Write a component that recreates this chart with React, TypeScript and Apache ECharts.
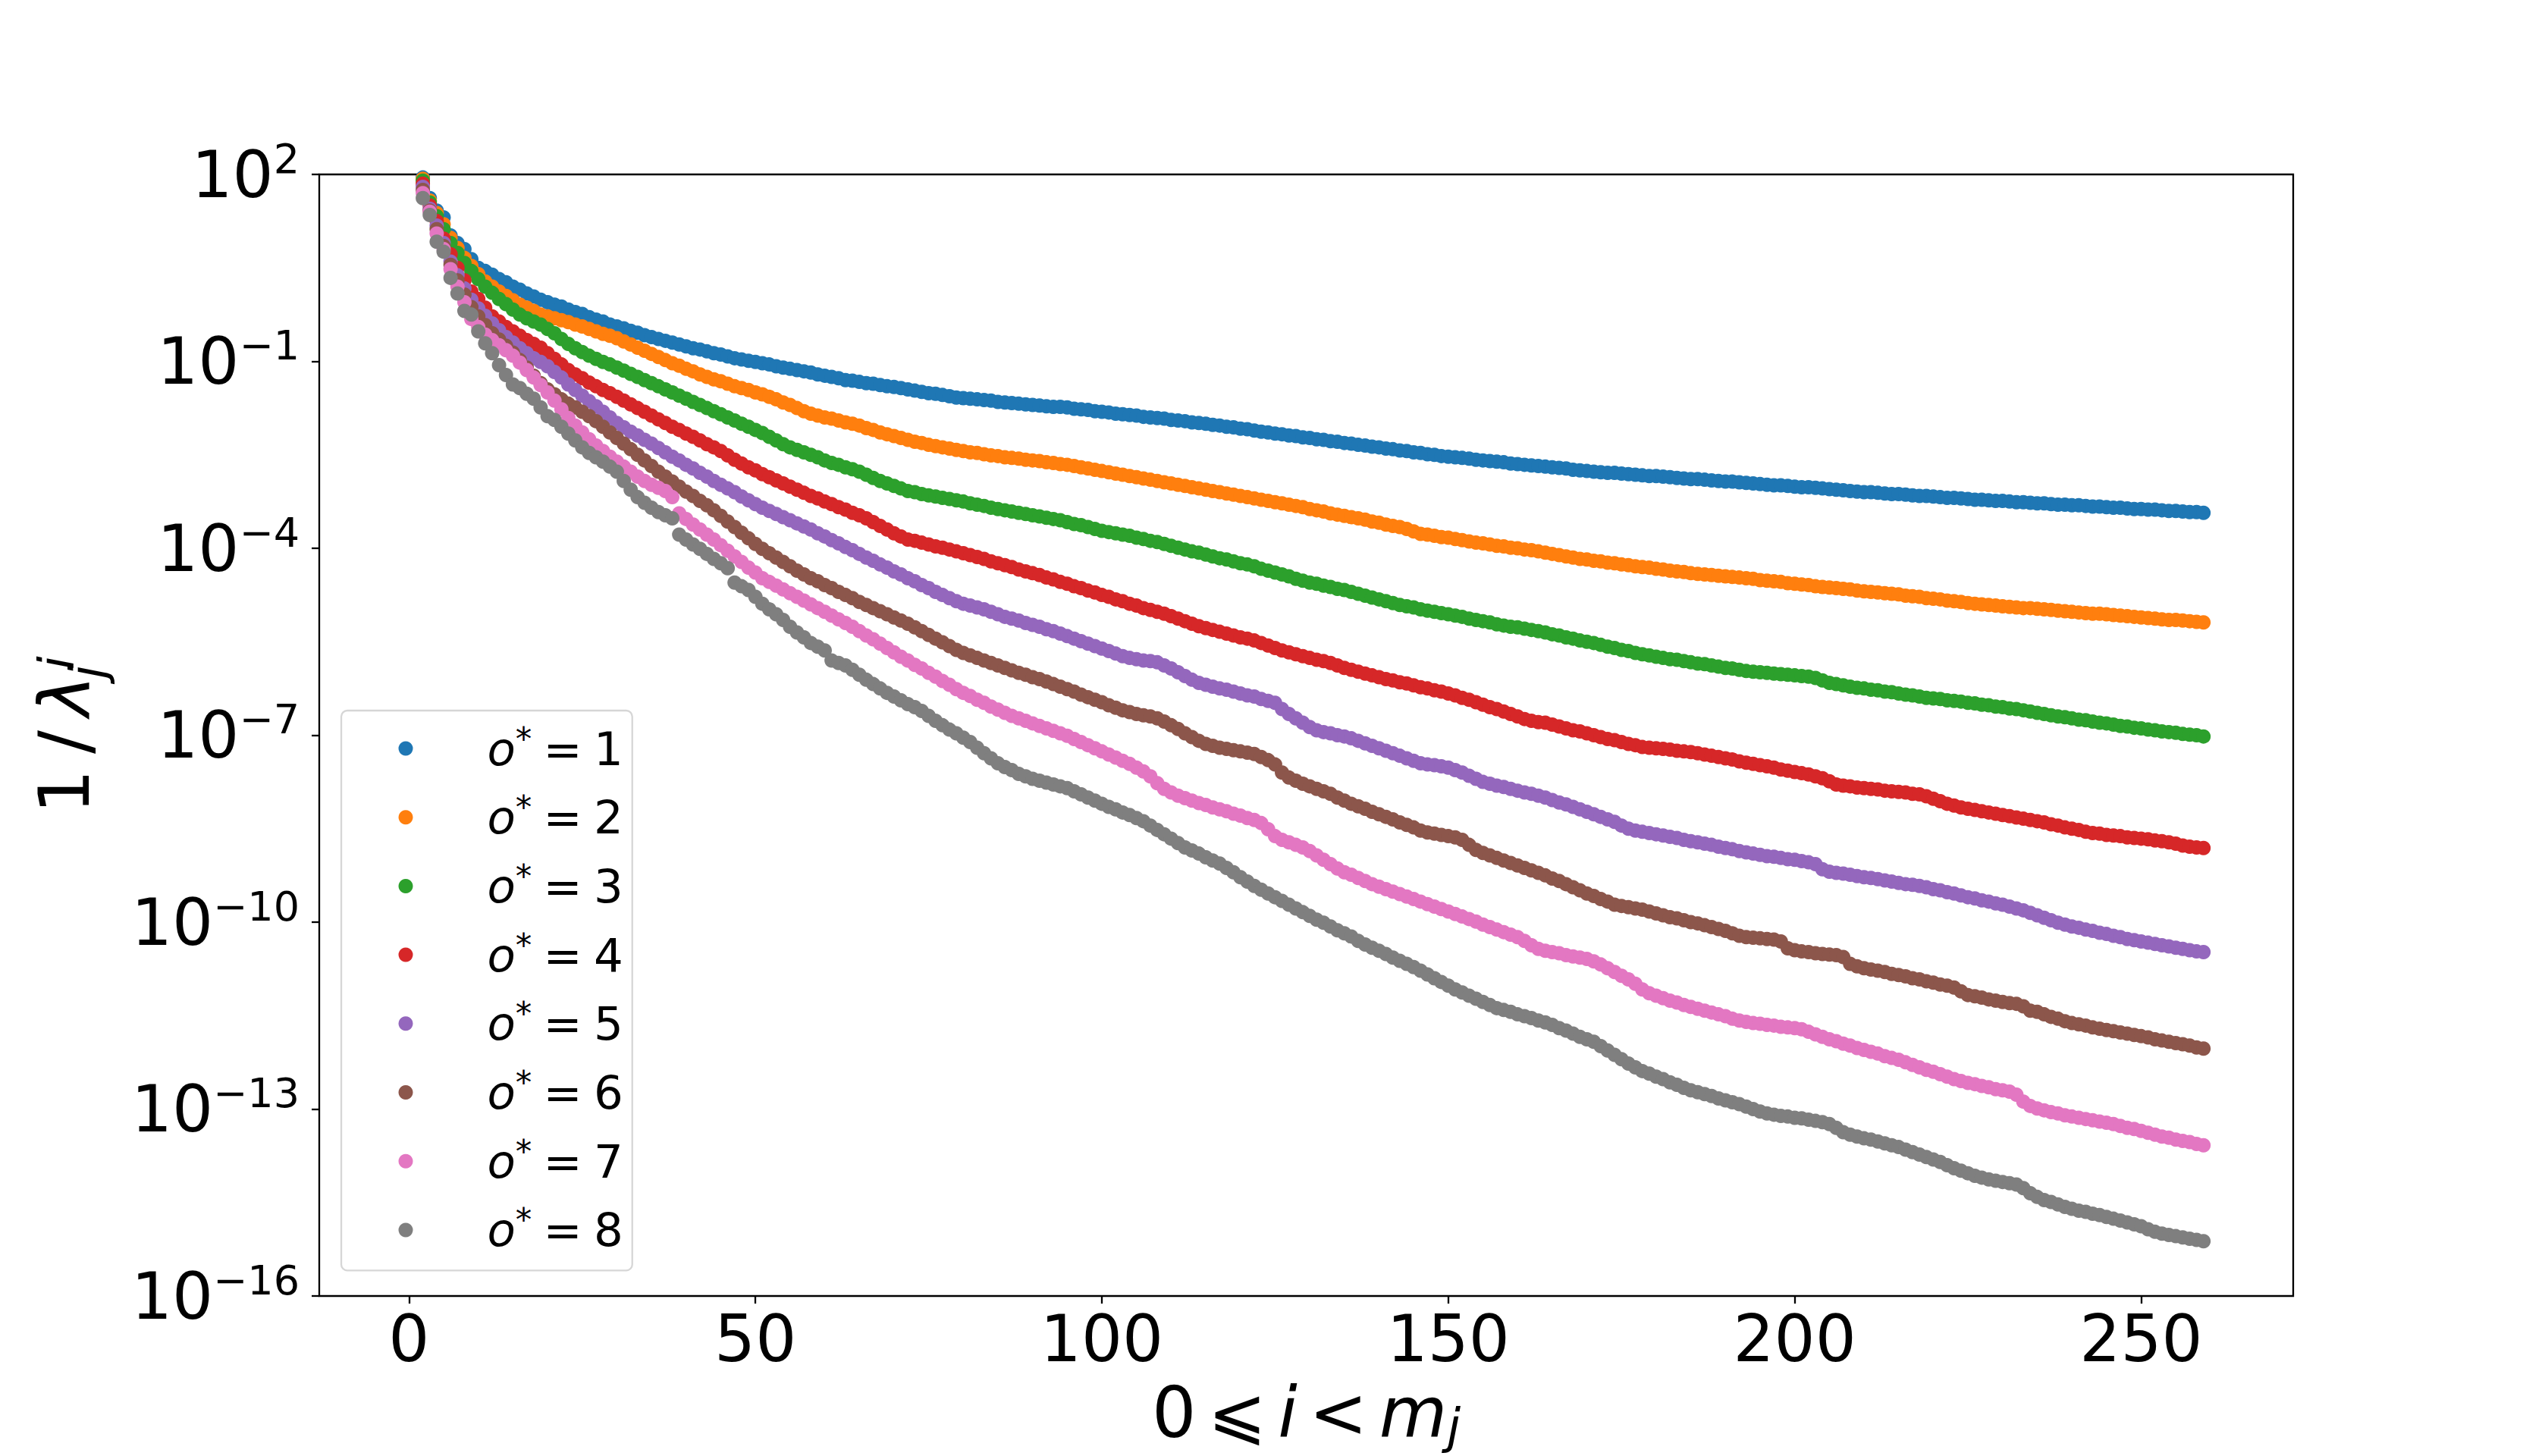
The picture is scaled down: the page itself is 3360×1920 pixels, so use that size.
import React, { useEffect, useRef } from "react";
import * as echarts from "echarts";

// x positions are the index i (0..259); y values are log10(1/lambda)
const xTickValues = [0, 50, 100, 150, 200, 250];
const yTickExponents = [-16, -13, -10, -7, -4, -1, 2];
const orderValues = ["1", "2", "3", "4", "5", "6", "7", "8"];
const seriesColors = ["#1f77b4", "#ff7f0e", "#2ca02c", "#d62728", "#9467bd", "#8c564b", "#e377c2", "#7f7f7f"];

const logO1 = [
  2.90, 2.40, 1.95, 1.62, 1.42, 1.31, 1.02, 0.90, 0.80, 0.64,
  0.50, 0.45, 0.39, 0.32, 0.27, 0.20, 0.15, 0.09, 0.04, -0.01,
  -0.05, -0.09, -0.12, -0.17, -0.21, -0.24, -0.29, -0.33, -0.36, -0.41,
  -0.44, -0.47, -0.51, -0.54, -0.58, -0.61, -0.64, -0.67, -0.70, -0.73,
  -0.76, -0.79, -0.81, -0.84, -0.87, -0.89, -0.92, -0.95, -0.97, -0.99,
  -1.01, -1.03, -1.05, -1.08, -1.10, -1.12, -1.14, -1.16, -1.18, -1.21,
  -1.23, -1.25, -1.27, -1.30, -1.31, -1.33, -1.35, -1.36, -1.38, -1.40,
  -1.41, -1.43, -1.45, -1.47, -1.49, -1.51, -1.52, -1.54, -1.56, -1.58,
  -1.59, -1.60, -1.61, -1.62, -1.63, -1.65, -1.66, -1.67, -1.68, -1.69,
  -1.70, -1.71, -1.72, -1.73, -1.73, -1.74, -1.76, -1.77, -1.78, -1.80,
  -1.81, -1.82, -1.84, -1.85, -1.86, -1.87, -1.89, -1.90, -1.91, -1.92,
  -1.94, -1.95, -1.96, -1.98, -1.99, -2.00, -2.02, -2.03, -2.05, -2.06,
  -2.08, -2.09, -2.11, -2.13, -2.14, -2.16, -2.17, -2.19, -2.20, -2.22,
  -2.23, -2.25, -2.26, -2.28, -2.29, -2.31, -2.32, -2.34, -2.35, -2.37,
  -2.38, -2.40, -2.41, -2.43, -2.44, -2.46, -2.47, -2.49, -2.50, -2.52,
  -2.53, -2.54, -2.55, -2.56, -2.58, -2.59, -2.60, -2.61, -2.62, -2.64,
  -2.65, -2.66, -2.67, -2.68, -2.69, -2.70, -2.71, -2.72, -2.74, -2.75,
  -2.76, -2.77, -2.78, -2.79, -2.79, -2.80, -2.81, -2.82, -2.83, -2.84,
  -2.84, -2.85, -2.86, -2.87, -2.88, -2.89, -2.89, -2.90, -2.91, -2.92,
  -2.93, -2.93, -2.94, -2.95, -2.96, -2.97, -2.98, -2.99, -2.99, -3.00,
  -3.01, -3.02, -3.02, -3.03, -3.04, -3.05, -3.06, -3.07, -3.08, -3.09,
  -3.10, -3.10, -3.11, -3.12, -3.13, -3.13, -3.14, -3.15, -3.16, -3.16,
  -3.17, -3.18, -3.19, -3.19, -3.20, -3.21, -3.22, -3.22, -3.23, -3.24,
  -3.24, -3.25, -3.26, -3.26, -3.27, -3.28, -3.28, -3.29, -3.30, -3.30,
  -3.31, -3.31, -3.32, -3.33, -3.33, -3.34, -3.35, -3.35, -3.36, -3.37,
  -3.37, -3.38, -3.38, -3.39, -3.40, -3.40, -3.41, -3.42, -3.42, -3.43,
];

const logO2 = [
  2.85, 2.35, 1.93, 1.58, 1.38, 1.20, 0.98, 0.82, 0.66, 0.53,
  0.40, 0.28, 0.20, 0.12, 0.05, -0.02, -0.09, -0.14, -0.19, -0.25,
  -0.28, -0.31, -0.34, -0.37, -0.41, -0.44, -0.48, -0.52, -0.56, -0.59,
  -0.63, -0.68, -0.73, -0.78, -0.83, -0.88, -0.93, -0.98, -1.03, -1.07,
  -1.12, -1.16, -1.21, -1.25, -1.29, -1.32, -1.36, -1.40, -1.43, -1.46,
  -1.50, -1.53, -1.57, -1.61, -1.66, -1.70, -1.75, -1.80, -1.84, -1.87,
  -1.90, -1.92, -1.95, -1.98, -2.00, -2.03, -2.07, -2.10, -2.14, -2.17,
  -2.20, -2.23, -2.26, -2.29, -2.31, -2.34, -2.36, -2.38, -2.40, -2.42,
  -2.44, -2.46, -2.47, -2.49, -2.51, -2.52, -2.54, -2.55, -2.56, -2.58,
  -2.59, -2.60, -2.62, -2.63, -2.65, -2.66, -2.68, -2.70, -2.72, -2.74,
  -2.76, -2.78, -2.80, -2.82, -2.84, -2.86, -2.88, -2.90, -2.92, -2.94,
  -2.96, -2.98, -3.00, -3.02, -3.04, -3.06, -3.08, -3.10, -3.12, -3.14,
  -3.16, -3.18, -3.20, -3.22, -3.24, -3.26, -3.28, -3.30, -3.32, -3.34,
  -3.37, -3.39, -3.41, -3.44, -3.46, -3.48, -3.50, -3.52, -3.54, -3.57,
  -3.59, -3.62, -3.64, -3.66, -3.69, -3.73, -3.77, -3.78, -3.80, -3.82,
  -3.83, -3.85, -3.87, -3.89, -3.91, -3.92, -3.94, -3.96, -3.97, -3.99,
  -4.00, -4.02, -4.03, -4.05, -4.07, -4.09, -4.11, -4.13, -4.15, -4.17,
  -4.18, -4.20, -4.21, -4.23, -4.24, -4.26, -4.27, -4.29, -4.30, -4.31,
  -4.33, -4.34, -4.36, -4.37, -4.38, -4.40, -4.41, -4.42, -4.43, -4.44,
  -4.45, -4.46, -4.47, -4.48, -4.49, -4.51, -4.52, -4.53, -4.54, -4.56,
  -4.57, -4.58, -4.59, -4.61, -4.62, -4.63, -4.64, -4.65, -4.66, -4.68,
  -4.69, -4.70, -4.71, -4.72, -4.73, -4.74, -4.76, -4.77, -4.78, -4.80,
  -4.81, -4.82, -4.84, -4.85, -4.86, -4.88, -4.89, -4.90, -4.91, -4.92,
  -4.93, -4.94, -4.95, -4.96, -4.96, -4.97, -4.98, -4.99, -5.00, -5.01,
  -5.02, -5.03, -5.04, -5.05, -5.05, -5.06, -5.07, -5.08, -5.09, -5.10,
  -5.11, -5.12, -5.13, -5.14, -5.15, -5.15, -5.16, -5.17, -5.18, -5.19,
];

const logO3 = [
  2.80, 2.32, 1.90, 1.55, 1.33, 1.12, 0.90, 0.74, 0.58, 0.45,
  0.32, 0.20, 0.10, 0.00, -0.08, -0.17, -0.25, -0.31, -0.36, -0.41,
  -0.48, -0.55, -0.64, -0.72, -0.79, -0.85, -0.91, -0.96, -1.01, -1.05,
  -1.10, -1.15, -1.20, -1.25, -1.30, -1.35, -1.40, -1.45, -1.50, -1.55,
  -1.60, -1.65, -1.70, -1.75, -1.80, -1.85, -1.90, -1.95, -2.00, -2.05,
  -2.10, -2.15, -2.21, -2.27, -2.33, -2.38, -2.42, -2.46, -2.50, -2.54,
  -2.59, -2.63, -2.66, -2.70, -2.73, -2.77, -2.82, -2.87, -2.92, -2.96,
  -3.00, -3.04, -3.08, -3.10, -3.13, -3.15, -3.17, -3.19, -3.21, -3.23,
  -3.25, -3.28, -3.30, -3.32, -3.35, -3.37, -3.39, -3.41, -3.43, -3.45,
  -3.47, -3.49, -3.51, -3.53, -3.55, -3.58, -3.61, -3.63, -3.66, -3.69,
  -3.72, -3.74, -3.76, -3.78, -3.80, -3.83, -3.85, -3.88, -3.90, -3.93,
  -3.96, -3.99, -4.02, -4.05, -4.07, -4.10, -4.13, -4.16, -4.18, -4.21,
  -4.24, -4.26, -4.29, -4.33, -4.36, -4.39, -4.42, -4.45, -4.49, -4.52,
  -4.55, -4.57, -4.60, -4.62, -4.65, -4.67, -4.70, -4.73, -4.76, -4.79,
  -4.82, -4.85, -4.88, -4.91, -4.93, -4.95, -4.98, -5.00, -5.02, -5.04,
  -5.06, -5.08, -5.10, -5.13, -5.15, -5.17, -5.19, -5.22, -5.24, -5.26,
  -5.27, -5.29, -5.31, -5.33, -5.35, -5.38, -5.40, -5.43, -5.45, -5.48,
  -5.50, -5.52, -5.55, -5.58, -5.60, -5.63, -5.65, -5.68, -5.70, -5.72,
  -5.74, -5.76, -5.78, -5.79, -5.81, -5.83, -5.85, -5.86, -5.88, -5.90,
  -5.92, -5.93, -5.95, -5.97, -5.98, -5.99, -6.00, -6.01, -6.02, -6.03,
  -6.04, -6.05, -6.06, -6.08, -6.12, -6.16, -6.18, -6.20, -6.22, -6.24,
  -6.25, -6.27, -6.28, -6.30, -6.31, -6.33, -6.35, -6.36, -6.38, -6.40,
  -6.41, -6.42, -6.44, -6.45, -6.46, -6.48, -6.49, -6.51, -6.52, -6.54,
  -6.55, -6.57, -6.58, -6.60, -6.62, -6.64, -6.66, -6.68, -6.70, -6.71,
  -6.73, -6.75, -6.76, -6.78, -6.80, -6.81, -6.83, -6.85, -6.86, -6.88,
  -6.89, -6.91, -6.92, -6.94, -6.95, -6.96, -6.98, -6.99, -7.00, -7.02,
];

const logO4 = [
  2.75, 2.30, 1.85, 1.50, 1.25, 0.97, 0.72, 0.50, 0.30, 0.12,
  0.00, -0.14, -0.28, -0.36, -0.45, -0.52, -0.59, -0.66, -0.72, -0.78,
  -0.87, -0.96, -1.05, -1.14, -1.21, -1.27, -1.34, -1.40, -1.46, -1.51,
  -1.57, -1.63, -1.69, -1.75, -1.81, -1.87, -1.93, -1.99, -2.05, -2.10,
  -2.16, -2.21, -2.27, -2.33, -2.38, -2.44, -2.51, -2.58, -2.64, -2.70,
  -2.75, -2.81, -2.86, -2.91, -2.96, -3.01, -3.06, -3.11, -3.16, -3.20,
  -3.25, -3.29, -3.34, -3.38, -3.43, -3.47, -3.52, -3.58, -3.64, -3.70,
  -3.76, -3.81, -3.86, -3.88, -3.91, -3.94, -3.97, -3.99, -4.02, -4.05,
  -4.08, -4.11, -4.14, -4.17, -4.21, -4.24, -4.27, -4.30, -4.34, -4.37,
  -4.40, -4.43, -4.47, -4.50, -4.54, -4.57, -4.61, -4.64, -4.68, -4.71,
  -4.75, -4.78, -4.82, -4.85, -4.89, -4.92, -4.96, -4.99, -5.02, -5.05,
  -5.09, -5.13, -5.17, -5.21, -5.25, -5.28, -5.31, -5.34, -5.37, -5.40,
  -5.43, -5.45, -5.48, -5.52, -5.56, -5.60, -5.64, -5.67, -5.70, -5.73,
  -5.76, -5.79, -5.81, -5.84, -5.88, -5.92, -5.95, -5.98, -6.01, -6.04,
  -6.07, -6.10, -6.12, -6.15, -6.17, -6.20, -6.23, -6.25, -6.28, -6.30,
  -6.33, -6.36, -6.40, -6.43, -6.47, -6.51, -6.55, -6.58, -6.62, -6.66,
  -6.70, -6.74, -6.77, -6.79, -6.80, -6.83, -6.86, -6.89, -6.92, -6.94,
  -6.97, -7.00, -7.03, -7.06, -7.08, -7.11, -7.14, -7.16, -7.19, -7.20,
  -7.21, -7.22, -7.23, -7.25, -7.26, -7.27, -7.29, -7.31, -7.33, -7.35,
  -7.37, -7.39, -7.42, -7.44, -7.46, -7.48, -7.50, -7.52, -7.55, -7.57,
  -7.59, -7.61, -7.63, -7.66, -7.69, -7.74, -7.79, -7.81, -7.82, -7.84,
  -7.85, -7.86, -7.87, -7.89, -7.90, -7.91, -7.92, -7.94, -7.95, -7.98,
  -8.02, -8.06, -8.10, -8.13, -8.16, -8.18, -8.20, -8.22, -8.24, -8.26,
  -8.28, -8.30, -8.32, -8.34, -8.36, -8.38, -8.40, -8.43, -8.45, -8.48,
  -8.50, -8.52, -8.55, -8.57, -8.58, -8.60, -8.61, -8.62, -8.64, -8.65,
  -8.66, -8.67, -8.69, -8.70, -8.72, -8.74, -8.77, -8.79, -8.80, -8.81,
];

const logO5 = [
  2.70, 2.28, 1.80, 1.45, 1.18, 0.90, 0.60, 0.38, 0.17, -0.01,
  -0.15, -0.27, -0.39, -0.50, -0.61, -0.70, -0.79, -0.87, -0.95, -1.01,
  -1.08, -1.17, -1.26, -1.37, -1.46, -1.55, -1.64, -1.72, -1.81, -1.90,
  -1.99, -2.06, -2.13, -2.19, -2.26, -2.32, -2.39, -2.46, -2.53, -2.59,
  -2.66, -2.72, -2.79, -2.85, -2.92, -2.98, -3.04, -3.10, -3.17, -3.23,
  -3.29, -3.35, -3.40, -3.45, -3.50, -3.55, -3.60, -3.65, -3.70, -3.76,
  -3.81, -3.87, -3.92, -3.98, -4.03, -4.09, -4.15, -4.20, -4.26, -4.31,
  -4.37, -4.42, -4.48, -4.53, -4.59, -4.64, -4.70, -4.75, -4.80, -4.85,
  -4.89, -4.92, -4.95, -4.98, -5.02, -5.06, -5.10, -5.13, -5.16, -5.20,
  -5.23, -5.26, -5.30, -5.33, -5.37, -5.41, -5.45, -5.49, -5.53, -5.57,
  -5.61, -5.65, -5.69, -5.73, -5.76, -5.78, -5.80, -5.81, -5.83, -5.88,
  -5.93, -5.99, -6.05, -6.11, -6.16, -6.19, -6.22, -6.25, -6.27, -6.30,
  -6.33, -6.36, -6.38, -6.42, -6.45, -6.48, -6.58, -6.66, -6.73, -6.80,
  -6.87, -6.92, -6.95, -6.97, -7.00, -7.02, -7.05, -7.09, -7.13, -7.17,
  -7.21, -7.25, -7.29, -7.33, -7.37, -7.41, -7.45, -7.47, -7.48, -7.50,
  -7.52, -7.56, -7.60, -7.65, -7.70, -7.75, -7.78, -7.81, -7.83, -7.86,
  -7.89, -7.92, -7.94, -7.97, -8.00, -8.04, -8.08, -8.11, -8.15, -8.19,
  -8.23, -8.27, -8.31, -8.35, -8.39, -8.45, -8.50, -8.53, -8.55, -8.57,
  -8.59, -8.61, -8.63, -8.65, -8.68, -8.70, -8.72, -8.74, -8.76, -8.79,
  -8.81, -8.83, -8.86, -8.88, -8.90, -8.92, -8.94, -8.95, -8.97, -8.99,
  -9.00, -9.02, -9.04, -9.07, -9.15, -9.19, -9.21, -9.22, -9.24, -9.26,
  -9.28, -9.29, -9.31, -9.33, -9.35, -9.37, -9.39, -9.40, -9.42, -9.44,
  -9.47, -9.49, -9.52, -9.54, -9.57, -9.60, -9.62, -9.65, -9.67, -9.70,
  -9.72, -9.75, -9.78, -9.81, -9.85, -9.89, -9.93, -9.97, -10.01, -10.04,
  -10.07, -10.09, -10.12, -10.14, -10.17, -10.19, -10.22, -10.24, -10.27, -10.29,
  -10.31, -10.33, -10.35, -10.37, -10.39, -10.41, -10.43, -10.45, -10.47, -10.48,
];

const logO6 = [
  2.65, 2.25, 1.75, 1.42, 1.12, 0.85, 0.55, 0.30, 0.07, -0.13,
  -0.28, -0.42, -0.55, -0.65, -0.75, -0.86, -0.98, -1.10, -1.23, -1.35,
  -1.45, -1.53, -1.61, -1.68, -1.74, -1.81, -1.88, -1.96, -2.05, -2.14,
  -2.23, -2.32, -2.41, -2.50, -2.59, -2.68, -2.77, -2.85, -2.93, -3.01,
  -3.09, -3.16, -3.24, -3.31, -3.39, -3.48, -3.57, -3.66, -3.75, -3.84,
  -3.93, -4.01, -4.08, -4.15, -4.22, -4.29, -4.36, -4.42, -4.48, -4.53,
  -4.59, -4.64, -4.70, -4.75, -4.80, -4.86, -4.91, -4.96, -5.01, -5.06,
  -5.11, -5.16, -5.21, -5.27, -5.33, -5.39, -5.45, -5.51, -5.57, -5.63,
  -5.68, -5.72, -5.76, -5.80, -5.84, -5.88, -5.92, -5.96, -6.00, -6.03,
  -6.07, -6.10, -6.14, -6.18, -6.22, -6.26, -6.30, -6.35, -6.39, -6.43,
  -6.47, -6.52, -6.56, -6.60, -6.63, -6.66, -6.68, -6.70, -6.73, -6.78,
  -6.84, -6.90, -6.97, -7.03, -7.09, -7.14, -7.17, -7.20, -7.22, -7.24,
  -7.26, -7.28, -7.30, -7.35, -7.40, -7.47, -7.60, -7.68, -7.73, -7.78,
  -7.82, -7.86, -7.90, -7.94, -8.00, -8.05, -8.10, -8.14, -8.18, -8.23,
  -8.27, -8.31, -8.35, -8.40, -8.44, -8.48, -8.53, -8.56, -8.58, -8.60,
  -8.62, -8.64, -8.68, -8.76, -8.84, -8.89, -8.93, -8.97, -9.01, -9.05,
  -9.09, -9.13, -9.17, -9.21, -9.25, -9.30, -9.34, -9.39, -9.44, -9.49,
  -9.54, -9.58, -9.63, -9.67, -9.72, -9.74, -9.76, -9.78, -9.80, -9.83,
  -9.86, -9.89, -9.92, -9.94, -9.97, -10.00, -10.02, -10.05, -10.08, -10.11,
  -10.14, -10.18, -10.22, -10.24, -10.25, -10.26, -10.27, -10.28, -10.31, -10.42,
  -10.45, -10.47, -10.48, -10.50, -10.51, -10.52, -10.53, -10.56, -10.67, -10.71,
  -10.74, -10.76, -10.78, -10.80, -10.83, -10.85, -10.87, -10.90, -10.92, -10.95,
  -10.97, -11.00, -11.02, -11.05, -11.11, -11.17, -11.19, -11.21, -11.24, -11.26,
  -11.28, -11.30, -11.31, -11.35, -11.42, -11.44, -11.48, -11.52, -11.55, -11.59,
  -11.62, -11.64, -11.66, -11.69, -11.71, -11.73, -11.75, -11.77, -11.79, -11.81,
  -11.83, -11.85, -11.88, -11.90, -11.92, -11.94, -11.96, -11.98, -12.01, -12.03,
];

const logO7 = [
  2.60, 2.22, 1.70, 1.40, 1.05, 0.80, 0.48, 0.20, -0.05, -0.32,
  -0.45, -0.57, -0.66, -0.74, -0.82, -0.91, -1.02, -1.14, -1.26, -1.38,
  -1.50, -1.63, -1.77, -1.91, -2.03, -2.14, -2.25, -2.35, -2.44, -2.53,
  -2.61, -2.69, -2.77, -2.85, -2.92, -2.98, -3.03, -3.08, -3.18, -3.44,
  -3.53, -3.62, -3.70, -3.78, -3.86, -3.95, -4.04, -4.13, -4.22, -4.31,
  -4.39, -4.48, -4.54, -4.60, -4.66, -4.72, -4.78, -4.84, -4.90, -4.96,
  -5.02, -5.08, -5.14, -5.20, -5.26, -5.33, -5.40, -5.46, -5.53, -5.60,
  -5.67, -5.74, -5.80, -5.87, -5.93, -6.00, -6.06, -6.13, -6.19, -6.26,
  -6.32, -6.37, -6.43, -6.48, -6.54, -6.59, -6.64, -6.69, -6.73, -6.77,
  -6.81, -6.85, -6.89, -6.93, -6.97, -7.01, -7.06, -7.11, -7.16, -7.21,
  -7.26, -7.31, -7.36, -7.41, -7.46, -7.52, -7.58, -7.66, -7.77, -7.86,
  -7.92, -7.97, -8.01, -8.05, -8.09, -8.12, -8.16, -8.19, -8.22, -8.26,
  -8.29, -8.33, -8.36, -8.41, -8.51, -8.62, -8.68, -8.72, -8.76, -8.80,
  -8.86, -8.93, -9.00, -9.07, -9.14, -9.20, -9.24, -9.29, -9.34, -9.39,
  -9.43, -9.47, -9.51, -9.55, -9.59, -9.63, -9.67, -9.71, -9.75, -9.79,
  -9.83, -9.87, -9.91, -9.95, -9.99, -10.04, -10.08, -10.12, -10.16, -10.20,
  -10.24, -10.30, -10.37, -10.43, -10.46, -10.48, -10.50, -10.53, -10.55, -10.57,
  -10.59, -10.63, -10.68, -10.74, -10.80, -10.86, -10.92, -10.99, -11.08, -11.14,
  -11.18, -11.22, -11.26, -11.29, -11.33, -11.36, -11.39, -11.42, -11.45, -11.48,
  -11.51, -11.55, -11.58, -11.60, -11.62, -11.63, -11.65, -11.66, -11.68, -11.69,
  -11.70, -11.72, -11.76, -11.80, -11.84, -11.88, -11.91, -11.95, -11.98, -12.02,
  -12.05, -12.08, -12.11, -12.15, -12.18, -12.21, -12.25, -12.29, -12.33, -12.37,
  -12.40, -12.44, -12.48, -12.52, -12.55, -12.58, -12.60, -12.63, -12.65, -12.68,
  -12.70, -12.72, -12.77, -12.88, -12.95, -12.99, -13.02, -13.05, -13.07, -13.10,
  -13.12, -13.14, -13.16, -13.18, -13.20, -13.22, -13.24, -13.27, -13.30, -13.32,
  -13.35, -13.38, -13.41, -13.44, -13.46, -13.49, -13.51, -13.53, -13.56, -13.58,
];

const logO8 = [
  2.55, 2.20, 1.62, 1.35, 0.92, 0.76, 0.34, 0.09, -0.19, -0.25,
  -0.52, -0.71, -0.87, -1.06, -1.22, -1.37, -1.43, -1.52, -1.60, -1.74,
  -1.88, -1.94, -2.05, -2.16, -2.27, -2.38, -2.47, -2.54, -2.61, -2.69,
  -2.77, -2.92, -3.06, -3.18, -3.27, -3.35, -3.42, -3.47, -3.52, -3.78,
  -3.86, -3.94, -4.01, -4.09, -4.17, -4.24, -4.32, -4.55, -4.61, -4.67,
  -4.78, -4.89, -4.98, -5.06, -5.15, -5.26, -5.35, -5.43, -5.52, -5.58,
  -5.64, -5.80, -5.84, -5.88, -5.95, -6.03, -6.11, -6.18, -6.25, -6.32,
  -6.38, -6.44, -6.50, -6.55, -6.61, -6.69, -6.77, -6.84, -6.91, -6.97,
  -7.04, -7.11, -7.20, -7.29, -7.37, -7.45, -7.51, -7.56, -7.62, -7.66,
  -7.70, -7.73, -7.76, -7.79, -7.82, -7.85, -7.90, -7.95, -8.00, -8.05,
  -8.10, -8.15, -8.19, -8.24, -8.28, -8.33, -8.38, -8.45, -8.52, -8.59,
  -8.66, -8.73, -8.80, -8.85, -8.90, -8.96, -9.01, -9.06, -9.13, -9.20,
  -9.28, -9.35, -9.42, -9.48, -9.54, -9.60, -9.66, -9.72, -9.78, -9.84,
  -9.90, -9.96, -10.01, -10.07, -10.13, -10.18, -10.23, -10.30, -10.36, -10.41,
  -10.46, -10.51, -10.57, -10.62, -10.67, -10.72, -10.78, -10.84, -10.90, -10.96,
  -11.02, -11.08, -11.13, -11.18, -11.23, -11.28, -11.33, -11.38, -11.41, -11.44,
  -11.48, -11.51, -11.54, -11.58, -11.61, -11.65, -11.70, -11.74, -11.79, -11.84,
  -11.88, -11.92, -11.99, -12.06, -12.13, -12.20, -12.27, -12.33, -12.39, -12.43,
  -12.48, -12.52, -12.57, -12.61, -12.66, -12.70, -12.73, -12.76, -12.79, -12.83,
  -12.86, -12.89, -12.92, -12.96, -13.00, -13.04, -13.07, -13.09, -13.11, -13.12,
  -13.14, -13.15, -13.17, -13.19, -13.21, -13.24, -13.30, -13.37, -13.41, -13.44,
  -13.47, -13.49, -13.52, -13.55, -13.58, -13.61, -13.65, -13.69, -13.73, -13.77,
  -13.81, -13.85, -13.90, -13.95, -13.99, -14.03, -14.07, -14.10, -14.13, -14.15,
  -14.17, -14.19, -14.21, -14.27, -14.35, -14.41, -14.46, -14.49, -14.53, -14.57,
  -14.60, -14.63, -14.65, -14.68, -14.70, -14.73, -14.76, -14.79, -14.82, -14.85,
  -14.88, -14.93, -14.97, -15.00, -15.02, -15.04, -15.06, -15.08, -15.10, -15.12,
];

const FONT = "DejaVu Sans";
const MINUS = "\u2212";

export default function App() {
  const ref = useRef<HTMLDivElement>(null);

  useEffect(() => {
    if (!ref.current) return;
    const chart = echarts.init(ref.current, null, { renderer: "svg" });
    const allSeries = [logO1, logO2, logO3, logO4, logO5, logO6, logO7, logO8];

    const series = allSeries.map((arr, k) => ({
      name: `o* = ${orderValues[k]}`,
      type: "scatter",
      data: arr.map((v, i) => [i, v]),
      symbol: "circle",
      symbolSize: 19,
      clip: true,
      itemStyle: { color: seriesColors[k], opacity: 1 },
      emphasis: { disabled: true },
    }));

    const option: any = {
      animation: false,
      backgroundColor: "#ffffff",
      grid: {
        left: 421,
        top: 230,
        width: 2603,
        height: 1479,
        show: true,
        borderColor: "#000000",
        borderWidth: 2.3,
        backgroundColor: "transparent",
      },
      xAxis: {
        type: "value",
        min: -12.95,
        max: 271.95,
        axisLine: { show: false, onZero: false },
        splitLine: { show: false },
        axisTick: {
          show: true,
          length: 10,
          customValues: xTickValues,
          lineStyle: { color: "#000", width: 2.3 },
        },
        axisLabel: {
          customValues: xTickValues,
          fontFamily: FONT,
          fontSize: 85,
          color: "#000",
          margin: 13,
          lineHeight: 86,
        },
        name: "{n|0\u2006\u2A7D\u2006}{it|i}{n|\u2006<\u2006}{it|m}{sub|j}",
        nameLocation: "middle",
        nameGap: 104,
        nameTextStyle: {
          rich: {
            n: { fontFamily: FONT, fontSize: 92, color: "#000", lineHeight: 100, verticalAlign: "middle" },
            it: { fontFamily: FONT, fontSize: 92, fontStyle: "italic", color: "#000", lineHeight: 100, verticalAlign: "middle" },
            sub: { fontFamily: FONT, fontSize: 64, fontStyle: "italic", color: "#000", lineHeight: 40, verticalAlign: "bottom" },
          },
        },
      },
      yAxis: {
        type: "value",
        min: -16,
        max: 2,
        axisLine: { show: false, onZero: false },
        splitLine: { show: false },
        axisTick: {
          show: true,
          length: 10,
          customValues: yTickExponents,
          lineStyle: { color: "#000", width: 2.3 },
        },
        axisLabel: {
          customValues: yTickExponents,
          margin: 26,
          formatter: (v: number) => `{b|10}{s|${v < 0 ? MINUS + Math.abs(v) : v}}`,
          rich: {
            b: { fontFamily: FONT, fontSize: 85, color: "#000", lineHeight: 96, verticalAlign: "middle" },
            s: { fontFamily: FONT, fontSize: 54, color: "#000", lineHeight: 54, verticalAlign: "top" },
          },
        },
      },
      legend: {
        orient: "vertical",
        left: 450,
        top: 937,
        padding: [15, 12, 23, 75.5],
        itemWidth: 19,
        itemHeight: 19,
        itemGap: 25.2,
        icon: "circle",
        selectedMode: false,
        backgroundColor: "rgba(255,255,255,0.8)",
        borderColor: "rgba(204,204,204,0.8)",
        borderWidth: 2.3,
        borderRadius: 8,
        data: series.map((s) => s.name),
        formatter: (name: string) => `{o|o}{s|*}{t|\u2005=\u2005${name.split("= ")[1]}}`,
        textStyle: {
          fontFamily: FONT,
          fontSize: 61,
          color: "#000",
          padding: [0, 0, 0, 93],
          rich: {
            o: { fontFamily: FONT, fontSize: 61, fontStyle: "italic", color: "#000", lineHeight: 70, verticalAlign: "middle" },
            s: { fontFamily: FONT, fontSize: 43, color: "#000", lineHeight: 40, verticalAlign: "top" },
            t: { fontFamily: FONT, fontSize: 61, color: "#000", lineHeight: 70, verticalAlign: "middle" },
          },
        },
      },
      graphic: [
        {
          type: "group",
          x: 117,
          y: 965,
          rotation: Math.PI / 2,
          silent: true,
          children: [
            { type: "text", x: -108, y: -32, style: { text: "1", fontFamily: FONT, fontSize: 92, fill: "#000", align: "left", verticalAlign: "middle" } },
            { type: "text", x: -29, y: -32, style: { text: "/", fontFamily: FONT, fontSize: 92, fill: "#000", align: "left", verticalAlign: "middle" } },
            { type: "text", x: 20, y: -32, style: { text: "\u03BB", fontFamily: FONT, fontSize: 92, fontStyle: "italic", fill: "#000", align: "left", verticalAlign: "middle" } },
            { type: "text", x: 70, y: -1, style: { text: "j", fontFamily: FONT, fontSize: 64, fontStyle: "italic", fill: "#000", align: "left", verticalAlign: "middle" } },
            { type: "text", x: 82, y: -42, style: { text: "i", fontFamily: FONT, fontSize: 64, fontStyle: "italic", fill: "#000", align: "left", verticalAlign: "middle" } },
          ],
        },
      ],
      series,
    };

    chart.setOption(option);
    return () => chart.dispose();
  }, []);

  return (
    <div
      ref={ref}
      style={{ position: "fixed", left: 0, top: 0, width: 3360, height: 1920, background: "#fff" }}
    />
  );
}
